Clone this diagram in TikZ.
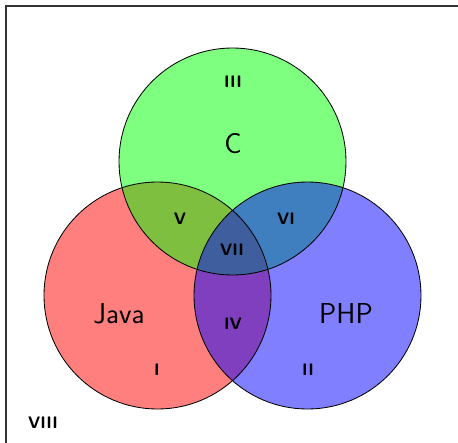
\documentclass[tikz,border=0pt]{standalone}
\begin{document}
\begin{tikzpicture}[x=0.72pt,y=-0.72pt,
  setfill/.style={fill opacity=0.5},
  setline/.style={draw=black,line width=0.6pt},
  biglabel/.style={font=\sffamily\huge,anchor=base,inner sep=0pt},
  smalllabel/.style={font=\sffamily\bfseries\large,anchor=base,inner sep=0pt}]
\useasboundingbox (0,0) rectangle (458,443);
\draw[line width=1pt,black!80] (6,6) rectangle (480,470);
\coordinate (cC) at (232.5,161.5);
\coordinate (cJ) at (157.5,295.5);
\coordinate (cP) at (307.5,295.5);
\fill[red,setfill] (cJ) circle[radius=81.72pt];
\fill[green,setfill] (cC) circle[radius=81.72pt];
\fill[blue,setfill] (cP) circle[radius=81.72pt];
\draw[setline] (cJ) circle[radius=81.72pt];
\draw[setline] (cC) circle[radius=81.72pt];
\draw[setline] (cP) circle[radius=81.72pt];
\node[biglabel] (lc) at (233,153) {C};
\node[biglabel] (lj) at (119,323) {Java};
\node[biglabel] (lp) at (346,323) {PHP};
\node[smalllabel] (l3) at (233,87) {III};
\node[smalllabel] (l1) at (157,375) {I};
\node[smalllabel] (l2) at (308,375) {II};
\node[smalllabel] (l5) at (180,224) {V};
\node[smalllabel] (l6) at (286,224) {VI};
\node[smalllabel] (l7) at (232,255) {VII};
\node[smalllabel] (l4) at (233,329) {IV};
\node[smalllabel] (l8) at (43,428) {VIII};
\end{tikzpicture}
\end{document}
